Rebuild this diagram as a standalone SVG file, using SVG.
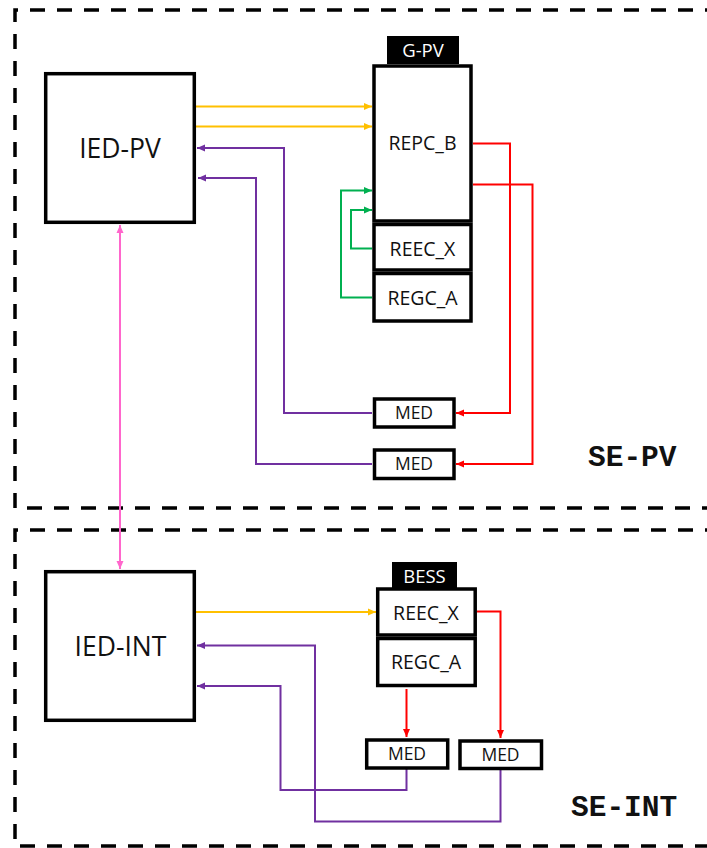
<svg xmlns="http://www.w3.org/2000/svg" width="707" height="848" viewBox="0 0 707 848">
<style>
.zone{fill:none;stroke:#000;stroke-width:3.5;stroke-dasharray:15 12}
.box{fill:#fff;stroke:#000;stroke-width:3.5}
.tab{fill:#000}
.lbl{font-family:"Open Sans","Liberation Sans",sans-serif;fill:#111;text-anchor:middle}
.big{font-size:26.5px}
.mid{font-size:19.5px}
.sml{font-size:17.5px}
.tabt{font-family:"Open Sans","Liberation Sans",sans-serif;fill:#fff;font-size:18.5px;text-anchor:middle}
.zt{font-family:"Liberation Mono","Courier New",monospace;font-weight:bold;font-size:29.5px;fill:#111}
.c{fill:none;stroke-width:2}
.y{stroke:#FFC000}.p{stroke:#7030A0}.r{stroke:#FF0000}.g{stroke:#00B050}.k{stroke:#FF66CC}
</style>
<defs>
<marker id="ay" markerWidth="8" markerHeight="8" refX="8" refY="4" orient="auto" markerUnits="userSpaceOnUse"><path d="M0,0.5 L8,4 L0,7.5z" fill="#FFC000"/></marker>
<marker id="ap" markerWidth="8" markerHeight="8" refX="8" refY="4" orient="auto" markerUnits="userSpaceOnUse"><path d="M0,0.5 L8,4 L0,7.5z" fill="#7030A0"/></marker>
<marker id="ar" markerWidth="8" markerHeight="8" refX="8" refY="4" orient="auto" markerUnits="userSpaceOnUse"><path d="M0,0.5 L8,4 L0,7.5z" fill="#FF0000"/></marker>
<marker id="ag" markerWidth="8" markerHeight="8" refX="8" refY="4" orient="auto" markerUnits="userSpaceOnUse"><path d="M0,0.5 L8,4 L0,7.5z" fill="#00B050"/></marker>
<marker id="ak" markerWidth="8" markerHeight="8" refX="8" refY="4" orient="auto-start-reverse" markerUnits="userSpaceOnUse"><path d="M0,0.5 L8,4 L0,7.5z" fill="#FF66CC"/></marker>
</defs>

<g id="zone-se-pv">
<path class="zone" d="M720,10 H15 V508 H720"/>
<text class="zt" x="588" y="466">SE-PV</text>
</g>
<g id="zone-se-int">
<path class="zone" d="M720,530 H15 V846 H720"/>
<text class="zt" x="571" y="816">SE-INT</text>
</g>

<g id="connectors">
<path class="c y" d="M196,106.5 H372" marker-end="url(#ay)"/>
<path class="c y" d="M196,126.5 H372" marker-end="url(#ay)"/>
<path class="c p" d="M372,413 H284 V148 H197" marker-end="url(#ap)"/>
<path class="c p" d="M372,464 H256 V178 H198" marker-end="url(#ap)"/>
<path class="c g" d="M372,297.5 H341 V190.5 H372" marker-end="url(#ag)"/>
<path class="c g" d="M372,248.5 H351 V210 H372" marker-end="url(#ag)"/>
<path class="c r" d="M473,143.5 H510 V413 H456" marker-end="url(#ar)"/>
<path class="c r" d="M473,184.5 H532.5 V464 H456" marker-end="url(#ar)"/>
<path class="c k" d="M120,225 V569" marker-start="url(#ak)" marker-end="url(#ak)"/>
<path class="c y" d="M196,612 H376" marker-end="url(#ay)"/>
<path class="c p" d="M500.5,770 V821.5 H315 V645.5 H197" marker-end="url(#ap)"/>
<path class="c p" d="M406.5,769 V790 H280.5 V686 H197" marker-end="url(#ap)"/>
<path class="c r" d="M477,611.5 H500.5 V738" marker-end="url(#ar)"/>
<path class="c r" d="M406.5,689 V737" marker-end="url(#ar)"/>
</g>

<g id="ied-pv">
<rect class="box" x="45.7" y="73.7" width="148.6" height="148.6"/>
<text class="lbl big" x="120" y="158">IED-PV</text>
</g>
<g id="g-pv">
<rect class="tab" x="387" y="36" width="72" height="28"/>
<text class="tabt" x="423" y="56.5">G-PV</text>
</g>
<g id="repc-b">
<rect class="box" x="374" y="66" width="97" height="155"/>
<text class="lbl mid" x="422.5" y="150">REPC_B</text>
</g>
<g id="reec-x-pv">
<rect class="box" x="374" y="224.5" width="97" height="45.5"/>
<text class="lbl mid" x="422.5" y="256">REEC_X</text>
</g>
<g id="regc-a-pv">
<rect class="box" x="374" y="273.5" width="97" height="47.5"/>
<text class="lbl mid" x="422.5" y="305">REGC_A</text>
</g>
<g id="med-pv-1">
<rect class="box" x="374.5" y="399" width="79.5" height="28"/>
<text class="lbl sml" x="414" y="419">MED</text>
</g>
<g id="med-pv-2">
<rect class="box" x="374.5" y="450" width="79.5" height="28.5"/>
<text class="lbl sml" x="414" y="470">MED</text>
</g>

<g id="ied-int">
<rect class="box" x="45.7" y="571.7" width="148.6" height="148.6"/>
<text class="lbl big" x="120.5" y="656">IED-INT</text>
</g>
<g id="bess">
<rect class="tab" x="392" y="562" width="65" height="26"/>
<text class="tabt" x="424.5" y="582.5">BESS</text>
</g>
<g id="reec-x-int">
<rect class="box" x="377.7" y="589" width="97.5" height="46"/>
<text class="lbl mid" x="426" y="620">REEC_X</text>
</g>
<g id="regc-a-int">
<rect class="box" x="377.7" y="638.5" width="97.5" height="47"/>
<text class="lbl mid" x="426" y="669">REGC_A</text>
</g>
<g id="med-int-1">
<rect class="box" x="366.7" y="740" width="81" height="28"/>
<text class="lbl sml" x="407" y="760">MED</text>
</g>
<g id="med-int-2">
<rect class="box" x="460" y="741" width="81.5" height="27.5"/>
<text class="lbl sml" x="500.5" y="761">MED</text>
</g>
</svg>
